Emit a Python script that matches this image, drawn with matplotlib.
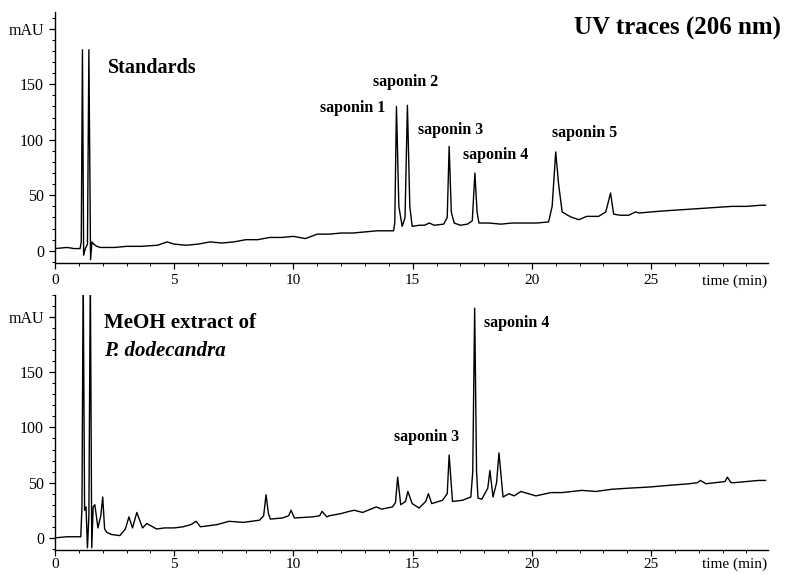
"""Two stacked HPLC-UV chromatograms (206 nm): saponin standards vs. MeOH extract."""
import numpy as np
import matplotlib
matplotlib.use("Agg")
import matplotlib.pyplot as plt
from matplotlib.ticker import MultipleLocator

# ---- trace points: time (min), signal (mAU) ----
std_time = [0.0, 0.5, 0.8, 1.05, 1.10, 1.15, 1.20, 1.27, 1.36, 1.42, 1.49, 1.55, 1.62, 1.75,
            1.9, 2.5, 3.0, 3.6, 4.3, 4.7, 5.0, 5.5, 6.0, 6.5, 7.0, 7.5, 8.0, 8.5, 9.0,
            9.5, 10.0, 10.5, 11.0, 11.5, 12.0, 12.5, 13.0, 13.5, 14.0, 14.2, 14.25,
            14.32, 14.42, 14.56, 14.68, 14.78, 14.88, 14.98, 15.27, 15.5, 15.7, 15.9,
            16.3, 16.45, 16.53, 16.62, 16.74, 17.0, 17.3, 17.5, 17.61, 17.7, 17.78,
            18.2, 18.7, 19.17, 19.7, 20.2, 20.7, 20.85, 21.0, 21.12, 21.27, 21.5,
            21.69, 21.97, 22.3, 22.8, 23.1, 23.3, 23.43, 23.7, 24.06, 24.35, 24.5,
            25.0, 25.6, 26.3, 27.0, 27.7, 28.4, 29.0, 29.6, 29.8]
std_signal = [2, 3, 2, 2, 8, 181, -4, 2, 6, 181, -8, 8, 6, 4,
              3, 3, 4, 4, 5, 8, 6, 5, 6, 8, 7, 8, 10, 10, 12,
              12, 13, 11, 15, 15, 16, 16, 17, 18, 18, 18, 25,
              130, 40, 22, 30, 131, 40, 22, 23, 23, 25, 23,
              24, 30, 94, 35, 25, 23, 24, 27, 70, 35, 25,
              25, 24, 25, 25, 25, 26, 40, 89, 60, 35, 32,
              30, 28, 31, 31, 35, 52, 33, 32, 32, 35, 34,
              35, 36, 37, 38, 39, 40, 40, 41, 41]

ext_time = [0.0, 0.5, 1.0, 1.08, 1.13, 1.18, 1.24, 1.30, 1.36, 1.42, 1.48, 1.54, 1.60,
            1.67, 1.8, 1.92, 2.0, 2.08, 2.17, 2.38, 2.72, 2.95, 3.1, 3.25, 3.43,
            3.67, 3.85, 4.26, 4.6, 5.0, 5.37, 5.7, 5.92, 6.1, 6.8, 7.3, 7.9, 8.58,
            8.75, 8.85, 8.95, 9.03, 9.54, 9.8, 9.9, 10.04, 10.8, 11.1, 11.2, 11.4,
            11.5, 12.0, 12.34, 12.55, 12.9, 13.47, 13.7, 14.15, 14.28, 14.37, 14.5,
            14.7, 14.8, 14.98, 15.27, 15.55, 15.66, 15.8, 16.25, 16.45, 16.53, 16.67,
            17.08, 17.44, 17.52, 17.6, 17.68, 17.74, 17.9, 18.15, 18.24, 18.37,
            18.52, 18.62, 18.79, 19.04, 19.25, 19.54, 20.17, 20.8, 21.27, 22.1,
            22.68, 23.35, 24.06, 24.9, 26.0, 26.6, 26.95, 27.07, 27.3, 27.7, 28.1,
            28.2, 28.35, 28.5, 29.0, 29.5, 29.8]
ext_signal = [0, 1, 1, 1, 28, 240, 25, 28, -9, 20, 240, -9, 28,
              30, 9, 20, 37, 8, 5, 3, 2, 8, 19, 9, 23,
              9, 13, 8, 9, 9, 10, 12, 15, 10, 12, 15, 14, 16,
              20, 39, 22, 17, 18, 20, 25, 18, 19, 20, 24, 19,
              20, 22, 24, 25, 23, 28, 26, 28, 32, 55, 30,
              33, 42, 31, 27, 33, 40, 31, 34, 40, 75, 33,
              34, 37, 60, 208, 60, 36, 35, 45, 61, 37,
              50, 77, 37, 40, 38, 42, 38, 41, 41, 43,
              42, 44, 45, 46, 48, 49, 50, 52, 49, 50, 51,
              55, 50, 50, 51, 52, 52]

# ---- labels ----
std_labels = ["saponin 1", "saponin 2", "saponin 3", "saponin 4", "saponin 5"]
std_label_pos = [(12.5, 129), (14.7, 152), (16.6, 109), (18.5, 86), (22.2, 106)]
ext_labels = ["saponin 3", "saponin 4"]
ext_label_pos = [(15.6, 91), (19.35, 195)]

x_ticks = [0, 5, 10, 15, 20, 25]
y_ticks = [0, 50, 100, 150, 200]
y_ticklabels = ["0", "50", "100", "150", "mAU"]

plt.rcParams["font.family"] = ["Liberation Serif", "DejaVu Serif"]


def style_axis(ax, ylim, xpad):
    ax.set_xlim(0, 29.9)
    ax.set_ylim(*ylim)
    for s in ("top", "right"):
        ax.spines[s].set_visible(False)
    for s in ("left", "bottom"):
        ax.spines[s].set_linewidth(1.0)
    ax.set_xticks(x_ticks + [28.5])
    ax.set_xticklabels([str(t) for t in x_ticks] + ["time (min)"])
    ax.xaxis.get_major_ticks()[-1].tick1line.set_visible(False)
    ax.set_yticks(y_ticks)
    ax.set_yticklabels(y_ticklabels)
    ax.xaxis.set_minor_locator(MultipleLocator(1))
    ax.yaxis.set_minor_locator(MultipleLocator(10))
    ax.tick_params(which="major", direction="out", length=4, width=0.9,
                   labelsize=11.5, pad=4)
    ax.tick_params(axis="x", which="major", pad=xpad, labelsize=11)
    ax.tick_params(which="minor", direction="out", length=2, width=0.7)


fig = plt.figure(figsize=(8.01, 5.75), dpi=100)
ax1 = fig.add_axes([0.0687, 0.5426, 0.890, 0.4365])
ax2 = fig.add_axes([0.0687, 0.0435, 0.890, 0.4435])

ax1.plot(std_time, std_signal, color="black", lw=1.0)
ax2.plot(ext_time, ext_signal, color="black", lw=1.0)
style_axis(ax1, (-11, 215), 4)
style_axis(ax2, (-11, 220), 1.5)

ax1.text(2.2, 165, "Standards", fontsize=14.5, fontweight="bold", va="center")
for lab, (x, y) in zip(std_labels, std_label_pos):
    ax1.text(x, y, lab, fontsize=11.5, fontweight="bold", ha="center", va="center")

ax2.text(2.05, 195, "MeOH extract of", fontsize=15, fontweight="bold", va="center")
ax2.text(2.05, 169, "P. dodecandra", fontsize=15, fontweight="bold",
         fontstyle="italic", va="center")
for lab, (x, y) in zip(ext_labels, ext_label_pos):
    ax2.text(x, y, lab, fontsize=11.5, fontweight="bold", ha="center", va="center")

fig.text(0.975, 1 - 28 / 575, "UV traces (206 nm)", fontsize=18,
         fontweight="bold", ha="right", va="center")

fig.savefig("out.png", dpi=100)
